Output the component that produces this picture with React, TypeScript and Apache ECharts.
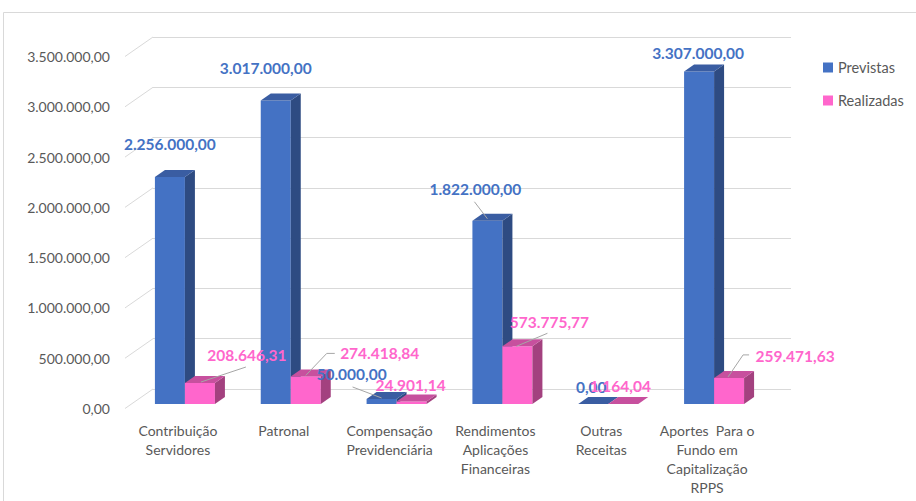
import React, { useEffect, useRef } from "react";
import * as echarts from "echarts";

const categories = [
  "Contribuição\nServidores",
  "Patronal",
  "Compensação\nPrevidenciária",
  "Rendimentos\nAplicações\nFinanceiras",
  "Outras\nReceitas",
  "Aportes  Para o\nFundo em\nCapitalização\nRPPS",
];
const seriesNames = ["Previstas", "Realizadas"];
const previstas = [2256000, 3017000, 50000, 1822000, 0, 3307000];
const realizadas = [208646.31, 274418.84, 24901.14, 573775.77, 1164.04, 259471.63];
const yTicks = [0, 500000, 1000000, 1500000, 2000000, 2500000, 3000000, 3500000];

// label placement (relative to the top-centre of each bar's front face)
const labelOffsets = [
  [[0, -33], [-10, -33], [-30, -25], [-12, -32], [-2, -17], [-1, -18]],
  [[47, -28], [74, -23], [-1, -16], [32, -24], [-3, -18], [66, -22]],
];
const leaderLines: (number[][] | null)[][] = [
  [null, null, [[-29, -12], [0, -1]], [[-13, -19], [0, -2]], null, null],
  [[[1, -1], [46, -16]], [[0, -1], [21, -23], [29, -23]], null, [[-1, 0], [30, -13]], null, [[-1, -1], [14, -23], [20, -23]]],
];

const faceColors = [
  { front: "#4472C4", side: "#2E4B82", top: "#3A5DA2", label: "#4472C4" },
  { front: "#FF66CC", side: "#A3417F", top: "#C7509E", label: "#FF66CC" },
];
const barOffset = [-23, 7];
const BAR_W = 30;
const DX = 10;
const DY = -7;

const fmt = (v: number) => {
  const [i, d] = v.toFixed(2).split(".");
  return i.replace(/\B(?=(\d{3})+(?!\d))/g, ".") + "," + d;
};

export default function App() {
  const ref = useRef<HTMLDivElement>(null);
  useEffect(() => {
    if (!ref.current) return;
    const chart = echarts.init(ref.current, null, { renderer: "svg" });
    const makeBarSeries = (s: number, values: number[]) => ({
      type: "custom",
      name: seriesNames[s],
      xAxisIndex: 0,
      yAxisIndex: 0,
      z: 3 + s,
      clip: false,
      itemStyle: { color: faceColors[s].front },
      encode: { x: 0, y: 1 },
      data: values.map((v, i) => [i, v]),
      renderItem: (params: any, api: any) => {
        const idx = api.value(0);
        const v = api.value(1);
        const base = api.coord([idx, 0]);
        const top = api.coord([idx, v]);
        const x0 = base[0] + barOffset[s];
        const yT = top[1];
        const yB = base[1];
        const c = faceColors[s];
        return {
          type: "group",
          children: [
            { type: "polygon", shape: { points: [[x0, yT], [x0 + BAR_W, yT], [x0 + BAR_W, yB], [x0, yB]] }, style: { fill: c.front } },
            { type: "polygon", shape: { points: [[x0 + BAR_W, yT], [x0 + BAR_W + DX, yT + DY], [x0 + BAR_W + DX, yB + DY], [x0 + BAR_W, yB]] }, style: { fill: c.side } },
            { type: "polygon", shape: { points: [[x0, yT], [x0 + DX, yT + DY], [x0 + BAR_W + DX, yT + DY], [x0 + BAR_W, yT]] }, style: { fill: c.top } },
          ],
        };
      },
    });

    const labelData: number[][] = [];
    [previstas, realizadas].forEach((arr, s) => arr.forEach((v, i) => labelData.push([i, v, s])));

    const yScale = {
      min: yTicks[0],
      max: yTicks[yTicks.length - 1],
      interval: yTicks[1] - yTicks[0],
    };

    chart.setOption({
      animation: false,
      backgroundColor: "#ffffff",
      textStyle: { fontFamily: "Lato, 'Open Sans', sans-serif" },
      graphic: [
        {
          type: "rect",
          shape: { x: 3.5, y: 12.5, width: 1000, height: 1000 },
          style: { fill: "none", stroke: "#D9D9D9", lineWidth: 1 },
          silent: true,
        },
      ],
      legend: {
        data: seriesNames,
        orient: "vertical",
        left: 818,
        top: 55,
        itemWidth: 10,
        itemHeight: 10,
        itemGap: 18,
        icon: "rect",
        textStyle: { color: "#595959", fontSize: 14.5, fontFamily: "Lato, sans-serif" },
      },
      grid: [
        { left: 125, right: 156, top: 52, bottom: 97 },
        { left: 153, right: 125, top: 37, bottom: 112 },
        { left: 125, right: 156, top: 56.5, bottom: 92.5 },
      ],
      xAxis: [
        {
          type: "category",
          gridIndex: 0,
          data: categories,
          axisLine: { show: false },
          axisTick: { show: false },
          axisLabel: { color: "#595959", fontSize: 14, lineHeight: 19, margin: 17, interval: 0, fontFamily: "Lato, sans-serif" },
        },
        { type: "category", gridIndex: 1, data: categories, show: false },
        { type: "category", gridIndex: 2, data: categories, show: false },
      ],
      yAxis: [
        {
          type: "value",
          gridIndex: 0,
          ...yScale,
          splitLine: { show: false },
          axisLine: { show: false },
          axisTick: { show: false },
          axisLabel: { show: false },
        },
        {
          type: "value",
          gridIndex: 1,
          ...yScale,
          axisLine: { show: false },
          axisTick: { show: false },
          axisLabel: { show: false },
          splitLine: { show: true, lineStyle: { color: "#D9D9D9", width: 1 } },
        },
        {
          type: "value",
          gridIndex: 2,
          ...yScale,
          splitLine: { show: false },
          axisLine: { show: false },
          axisTick: { show: false },
          axisLabel: {
            color: "#595959",
            fontSize: 14,
            margin: 15,
            fontFamily: "Lato, sans-serif",
            formatter: (v: number) => fmt(v),
          },
        },
      ],
      series: [
        {
          type: "custom",
          name: "walls",
          xAxisIndex: 0,
          yAxisIndex: 0,
          z: 1,
          clip: false,
          silent: true,
          encode: { x: 0, y: 1 },
          data: yTicks.map((t) => [0, t]),
          renderItem: (params: any, api: any) => {
            const p = api.coord([0, api.value(1)]);
            const x = params.coordSys.x;
            return {
              type: "line",
              shape: { x1: x, y1: p[1] + 4.5, x2: x + 28, y2: p[1] - 15 },
              style: { stroke: "#D9D9D9", lineWidth: 1 },
            };
          },
        },
        makeBarSeries(0, previstas),
        makeBarSeries(1, realizadas),
        {
          type: "custom",
          name: "labels",
          xAxisIndex: 0,
          yAxisIndex: 0,
          z: 10,
          clip: false,
          silent: true,
          encode: { x: 0, y: 1 },
          data: labelData,
          renderItem: (params: any, api: any) => {
            const idx = api.value(0);
            const v = api.value(1);
            const s = api.value(2);
            const base = api.coord([idx, 0]);
            const top = api.coord([idx, v]);
            const cx = base[0] + barOffset[s] + BAR_W / 2;
            const cy = top[1];
            const off = labelOffsets[s][idx];
            const children: any[] = [];
            const lead = leaderLines[s][idx];
            if (lead) {
              children.push({
                type: "polyline",
                shape: { points: lead.map((p) => [cx + p[0], cy + p[1]]) },
                style: { stroke: "#A6A6A6", lineWidth: 1, fill: "none" },
              });
            }
            children.push({
              type: "text",
              style: {
                text: fmt(v),
                x: cx + off[0],
                y: cy + off[1],
                align: "center",
                verticalAlign: "middle",
                fill: faceColors[s].label,
                fontSize: 15.5,
                fontWeight: "bold",
                fontFamily: "Lato, sans-serif",
              },
            });
            return { type: "group", children };
          },
        },
      ],
    });
    return () => chart.dispose();
  }, []);
  return (
    <div
      ref={ref}
      style={{ position: "absolute", left: 0, top: 0, width: 916, height: 501 }}
    />
  );
}
